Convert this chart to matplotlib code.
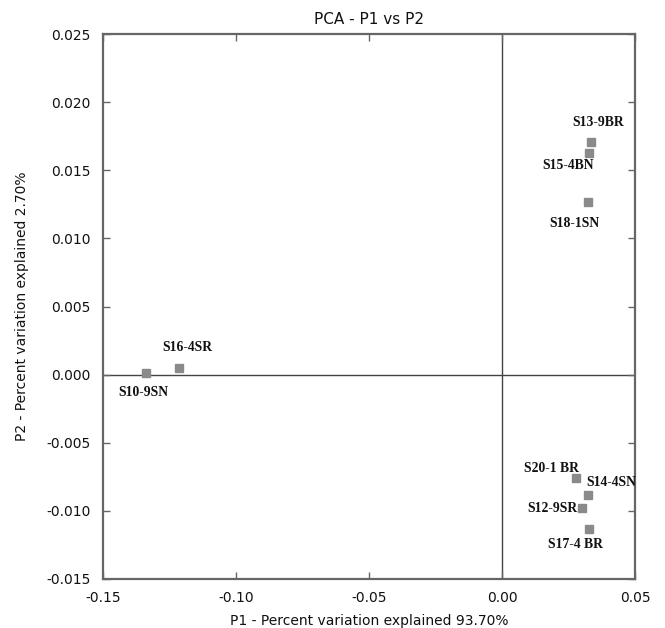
import matplotlib
matplotlib.use('agg')
import matplotlib.pyplot as plt
from matplotlib.ticker import FormatStrFormatter

plt.rcParams['axes.unicode_minus'] = False

# sample scores on the first two components
labels = ['S13-9BR', 'S15-4BN', 'S18-1SN', 'S16-4SR', 'S10-9SN',
          'S20-1 BR', 'S14-4SN', 'S12-9SR', 'S17-4 BR']
p1 = [0.0335, 0.0327, 0.0323, -0.1214, -0.1338, 0.0278, 0.0323, 0.0301, 0.0327]
p2 = [0.0171, 0.0163, 0.0127, 0.0005, 0.0001, -0.0076, -0.0088, -0.0098, -0.0113]

xticks = [-0.15, -0.10, -0.05, 0.00, 0.05]
yticks = [-0.015, -0.010, -0.005, 0.000, 0.005, 0.010, 0.015, 0.020, 0.025]

# label offsets in pixels (dx, dy) and alignment
offsets = [(7, 19, 'center'), (-21, -13, 'center'), (-13, -22, 'center'),
           (8, 20, 'center'), (-3, -19, 'center'), (-25, 10, 'center'),
           (23, 12, 'center'), (-5, 0, 'right'), (-14, -16, 'center')]

fig = plt.figure(figsize=(6.65, 6.28), dpi=100)
ax = fig.add_axes([103 / 665, 49 / 628, 532 / 665, 545 / 628])

ax.axhline(0, color='#444444', lw=1.0, zorder=1)
ax.axvline(0, color='#444444', lw=1.0, zorder=1)

ax.plot(p1, p2, 's', color='#8a8a8a', ms=5.5, mec='#8a8a8a', ls='none', zorder=3)

for lab, x, y, (dx, dy, ha) in zip(labels, p1, p2, offsets):
    ax.annotate(lab, (x, y), xytext=(dx, dy), textcoords='offset pixels',
                ha=ha, va='center', fontsize=9.8, fontweight='bold',
                family='Liberation Serif', color='#111111')

ax.set_xlim(-0.15, 0.05)
ax.set_ylim(-0.015, 0.025)
ax.set_xticks(xticks)
ax.set_yticks(yticks)
ax.xaxis.set_major_formatter(FormatStrFormatter('%.2f'))
ax.yaxis.set_major_formatter(FormatStrFormatter('%.3f'))

for s in ax.spines.values():
    s.set_color('#666666')
    s.set_linewidth(1.6)

ax.tick_params(direction='in', length=5, width=1, color='#666666',
               top=True, right=True, labelsize=10, labelcolor='#111111')
ax.tick_params(axis='x', pad=9)
ax.tick_params(axis='y', pad=9)

ax.set_title('PCA - P1 vs P2', fontsize=11, color='#111111', pad=7)
ax.set_xlabel('P1 - Percent variation explained 93.70%', fontsize=10,
              color='#111111', labelpad=6)
ax.set_ylabel('P2 - Percent variation explained 2.70%', fontsize=10,
              color='#111111', labelpad=12)

fig.savefig('out.png', dpi=100)
